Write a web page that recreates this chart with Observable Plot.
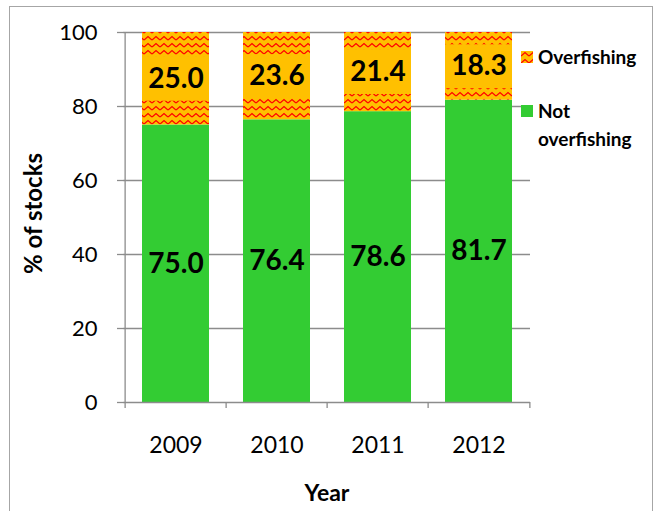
<!DOCTYPE html>
<html><head><meta charset="utf-8">
<script src="https://cdn.jsdelivr.net/npm/d3@7"></script>
<script src="https://cdn.jsdelivr.net/npm/@observablehq/plot@0.6"></script>
<style>
body{margin:0;background:#fff;font-family:Lato,"Open Sans",sans-serif;}
#wrap{position:relative;width:656px;height:511px;overflow:hidden;}
#border{position:absolute;left:9px;top:6px;width:644px;height:520px;border:1.5px solid #a6a6a6;box-sizing:border-box;}
#chart{position:absolute;left:0;top:0;}
.leg{position:absolute;font-weight:700;font-size:19px;color:#000;line-height:28px;}
.sw{position:absolute;width:12px;height:12px;}
</style></head>
<body>
<svg width="0" height="0" style="position:absolute">
 <defs>
  <pattern id="zz" patternUnits="userSpaceOnUse" width="8" height="7">
   <rect width="8" height="7" fill="#FFC000"/>
   <path d="M0,5 L4,1.5 L8,5" fill="none" stroke="#FF0000" stroke-width="1.3"/>
  </pattern>
 </defs>
</svg>
<div id="wrap">
 <div id="border"></div>
 <div id="chart"></div>
</div>
<script>
const years = ["2009", "2010", "2011", "2012"];
const notOverfishing = [75.0, 76.4, 78.6, 81.7];
const overfishing = [25.0, 23.6, 21.4, 18.3];
const seriesNames = ["Not overfishing", "Overfishing"];
const yTicks = [0, 20, 40, 60, 80, 100];

const fills = {"Not overfishing": "#33CC33", "Overfishing": "url(#zz)"};
const boxFill = {"Not overfishing": "none", "Overfishing": "#FFC000"};

const rows = [];
years.forEach((yr, i) => {
  rows.push({year: yr, series: seriesNames[0], value: notOverfishing[i]});
  rows.push({year: yr, series: seriesNames[1], value: overfishing[i]});
});

const W = 656, H = 511, mL = 123, mR = 126, mT = 32, mB = 109;
const step = (W - mL - mR) / years.length;
const grid = "#8c8c8c";

const chart = Plot.plot({
  width: W, height: H,
  marginLeft: mL, marginRight: mR, marginTop: mT, marginBottom: mB,
  style: {fontFamily: "Lato, 'Open Sans', sans-serif", background: "transparent", overflow: "visible"},
  x: {domain: years, paddingInner: 0.34, paddingOuter: 0.17, axis: null},
  y: {domain: [0, 100], axis: null},
  color: {type: "identity"},
  marks: [
    Plot.gridY(yTicks.filter(d => d > 0), {stroke: grid, strokeOpacity: 1, strokeWidth: 1.3}),
    Plot.barY(rows, Plot.stackY({x: "year", y: "value", fill: d => fills[d.series]})),
    Plot.tickY(rows, Plot.stackY({x: "year", y: "value", stroke: d => boxFill[d.series], strokeWidth: 44})),
    Plot.text(rows, Plot.stackY({x: "year", y: "value", text: d => d.value.toFixed(1),
      fontSize: 28, fontWeight: 700, fill: "#000"})),
    // axis lines
    Plot.ruleY([0], {stroke: grid, strokeWidth: 1.3}),
    Plot.ruleX(years.slice(0, 1), {x: d => d, y1: 0, y2: 100, dx: -step / 2, stroke: grid, strokeWidth: 1.3}),
    // category boundary ticks
    Plot.ruleX(years, {x: d => d, y1: 0, y2: 0, insetBottom: -6, dx: -step / 2, stroke: grid, strokeWidth: 1.3}),
    Plot.ruleX(years.slice(-1), {x: d => d, y1: 0, y2: 0, insetBottom: -6, dx: step / 2, stroke: grid, strokeWidth: 1.3}),
    Plot.axisY({ticks: yTicks, tickSize: 6, tickPadding: 20, stroke: grid, strokeWidth: 1.3, fontSize: 22, fill: "#000", label: null}),
    Plot.axisX({tickSize: 0, tickPadding: 34, fontSize: 23, fill: "#000", label: null}),
    Plot.text(["% of stocks"], {frameAnchor: "left", textAnchor: "middle", dx: -89, dy: -4, rotate: -90, fontSize: 24, fontWeight: 700, fill: "#000"}),
    Plot.text(["Year"], {frameAnchor: "bottom", dy: 98, fontSize: 23, fontWeight: 700, fill: "#000"})
  ]
});
document.getElementById("chart").appendChild(chart);

// legend
const wrap = document.getElementById("wrap");
const legendItems = [
  {name: seriesNames[1], lines: ["Overfishing"], top: 43},
  {name: seriesNames[0], lines: ["Not", "overfishing"], top: 97}
];
legendItems.forEach(it => {
  const sw = document.createElementNS("http://www.w3.org/2000/svg", "svg");
  sw.setAttribute("class", "sw");
  sw.setAttribute("width", 12); sw.setAttribute("height", 12);
  sw.style.left = "521px"; sw.style.top = (it.top + 8) + "px";
  const r = document.createElementNS("http://www.w3.org/2000/svg", "rect");
  r.setAttribute("width", 12); r.setAttribute("height", 12);
  r.setAttribute("fill", fills[it.name]);
  sw.appendChild(r);
  wrap.appendChild(sw);
  const t = document.createElement("div");
  t.className = "leg";
  t.style.left = "538px"; t.style.top = it.top + "px";
  t.innerHTML = it.lines.join("<br>");
  wrap.appendChild(t);
});
</script>
</body></html>
